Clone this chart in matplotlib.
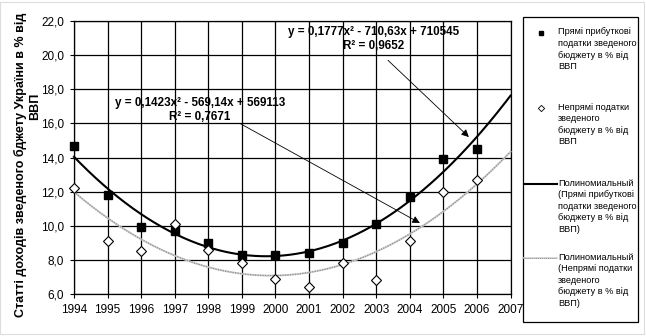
import numpy as np
import matplotlib
matplotlib.use("Agg")
import matplotlib.pyplot as plt
from matplotlib.lines import Line2D
from matplotlib.patches import Rectangle

plt.rcParams['font.family'] = ['Liberation Sans', 'DejaVu Sans']

years = [1994, 1995, 1996, 1997, 1998, 1999, 2000, 2001, 2002, 2003, 2004, 2005, 2006]
direct_tax = [14.7, 11.8, 9.9, 9.7, 9.0, 8.3, 8.3, 8.4, 9.0, 10.1, 11.7, 13.9, 14.5]
indirect_tax = [12.2, 9.1, 8.5, 10.1, 8.6, 7.8, 6.9, 6.4, 7.8, 6.8, 9.1, 12.0, 12.7]
x_ticks = list(range(1994, 2008))
y_ticks = [6, 8, 10, 12, 14, 16, 18, 20, 22]

label_direct = "Прямі прибуткові\nподатки зведеного\nбюджету в % від\nВВП"
label_indirect = "Непрямі податки\nзведеного\nбюджету в % від\nВВП"
label_trend_direct = "Полиномиальный\n(Прямі прибуткові\nподатки зведеного\nбюджету в % від\nВВП)"
label_trend_indirect = "Полиномиальный\n(Непрямі податки\nзведеного\nбюджету в % від\nВВП)"
eq_direct = "y = 0,1777x² - 710,63x + 710545\nR² = 0,9652"
eq_indirect = "y = 0,1423x² - 569,14x + 569113\nR² = 0,7671"
ylabel_1 = "Статті доходів зведеного бджету України в % від"
ylabel_2 = "ВВП"

W, H = 646, 336
fig = plt.figure(figsize=(W / 100, H / 100), dpi=100)


def fx(px):
    return px / W


def fy(py):
    return 1 - py / H


ax = fig.add_axes([fx(74), fy(294), fx(510.5) - fx(74), fy(21) - fy(294)])
ax.set_xlim(1994, 2007)
ax.set_ylim(6, 22)
ax.set_xticks(x_ticks)
ax.set_yticks(y_ticks)
ax.set_yticklabels([f"{v:.1f}".replace('.', ',') for v in y_ticks])
ax.tick_params(axis='both', direction='out', length=3, width=0.8, labelsize=8.5,
               colors='black', pad=4)
ax.grid(True, color='black', linewidth=0.9)
ax.set_axisbelow(True)
for s in ax.spines.values():
    s.set_linewidth(0.9)

# quadratic trend lines fitted to each series
xs = np.array(years, dtype=float)
xx = np.linspace(1994, 2007, 300)
c_d = np.polyfit(xs - 2000, direct_tax, 2)
c_i = np.polyfit(xs - 2000, indirect_tax, 2)
ax.plot(xx, np.polyval(c_i, xx - 2000), color='#d0d0d0', lw=1.4, zorder=3, clip_on=False)
ax.plot(xx, np.polyval(c_i, xx - 2000), color='#8c8c8c', lw=0.9, ls=(0, (1, 1)), zorder=3,
        clip_on=False)
ax.plot(xx, np.polyval(c_d, xx - 2000), color='black', lw=1.5, zorder=4, clip_on=False)

ax.plot(years, direct_tax, ls='none', marker='s', ms=6, color='black', zorder=5,
        clip_on=False)
ax.plot(years, indirect_tax, ls='none', marker='D', ms=5.2, mfc='white', mec='black',
        mew=0.8, zorder=5, clip_on=False)

# equation labels with arrows
fig.text(fx(200), fy(110), eq_indirect, ha='center', va='center', fontsize=8.4,
         fontweight='bold', linespacing=1.3)
fig.text(fx(374), fy(39), eq_direct, ha='center', va='center', fontsize=8.4,
         fontweight='bold', linespacing=1.3)
arrow = dict(arrowstyle='-|>', lw=0.6, color='black', mutation_scale=11, shrinkA=0, shrinkB=0)
ax.annotate('', xy=(2004.3, 10.16), xytext=(1998.94, 16.0), arrowprops=arrow, zorder=6)
ax.annotate('', xy=(2005.76, 15.2), xytext=(2003.35, 19.7), arrowprops=arrow, zorder=6)

# y axis title in two lines
fig.text(fx(20), fy(165), ylabel_1, rotation=90, ha='center', va='center',
         fontsize=9.0, fontweight='bold')
fig.text(fx(35), fy(106), ylabel_2, rotation=90, ha='center', va='center',
         fontsize=9.0, fontweight='bold')

# legend box
fig.patches.append(Rectangle((fx(522.5), fy(321.5)), fx(638) - fx(522.5), fy(17) - fy(321.5),
                             transform=fig.transFigure, fill=False, ec='black', lw=0.9))
lg_fs = 6.6
lg_ls = 1.38
fig.text(fx(558), fy(27.5), label_direct, ha='left', va='top', fontsize=lg_fs, linespacing=lg_ls)
fig.text(fx(558), fy(102.5), label_indirect, ha='left', va='top', fontsize=lg_fs, linespacing=lg_ls)
fig.text(fx(558), fy(178.5), label_trend_direct, ha='left', va='top', fontsize=lg_fs,
         linespacing=lg_ls)
fig.text(fx(558), fy(252.5), label_trend_indirect, ha='left', va='top', fontsize=lg_fs,
         linespacing=lg_ls)
fig.lines.append(Line2D([fx(541)], [fy(33)], transform=fig.transFigure, ls='none',
                        marker='s', ms=3.5, color='black'))
fig.lines.append(Line2D([fx(541)], [fy(108)], transform=fig.transFigure, ls='none',
                        marker='D', ms=3.2, mfc='white', mec='black', mew=0.6))
fig.lines.append(Line2D([fx(524), fx(557)], [fy(184), fy(184)], transform=fig.transFigure,
                        color='black', lw=1.5))
fig.lines.append(Line2D([fx(524), fx(557)], [fy(258), fy(258)], transform=fig.transFigure,
                        color='#d0d0d0', lw=1.2))
fig.lines.append(Line2D([fx(524), fx(557)], [fy(258), fy(258)], transform=fig.transFigure,
                        color='#8c8c8c', lw=0.7, ls=(0, (1, 1))))

# thin outer border
fig.patches.append(Rectangle((fx(0), fy(333.5)), fx(644) - fx(0), fy(1.5) - fy(333.5),
                             transform=fig.transFigure, fill=False, ec='#dcdcdc', lw=0.8))

fig.savefig('out.png', dpi=100)
